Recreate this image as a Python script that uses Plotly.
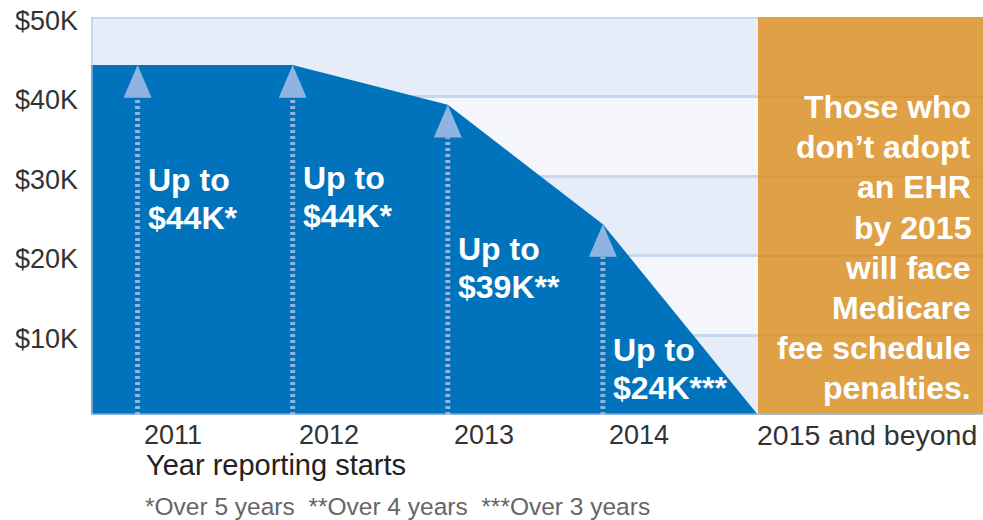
import plotly.graph_objects as go

# ---- data -------------------------------------------------------------
YEARS = [2011, 2012, 2013, 2014]
MAX_INCENTIVE_K = [44, 44, 39, 24]          # maximum incentive, $ thousands
PAYOUT_STARS = [1, 1, 2, 3]                 # footnote marker count per year
PENALTY_YEAR = 2015
PENALTY_LABEL = "2015 and beyond"
Y_TICKS = [10, 20, 30, 40, 50]
Y_TICK_TEXT = ["$10K", "$20K", "$30K", "$40K", "$50K"]
FOOTNOTES = ["*Over 5 years", "**Over 4 years", "***Over 3 years"]
PENALTY_TEXT = ["Those who", "don\u2019t adopt", "an EHR", "by 2015",
                "will face", "Medicare", "fee schedule", "penalties."]
X_AXIS_TITLE = "Year reporting starts"

# ---- styling / layout constants --------------------------------------
FONT = "Liberation Sans, Arial, sans-serif"
BLUE = "#0073bc"
ARROW = "#8fb4e2"
ORANGE = "#e0a045"
BAND_DARK = "#e6edf8"
BAND_LIGHT = "#f4f6fb"
GRID = "#c6d8ef"
X_RANGE = [2010.6996, 2016.4507]
Y_RANGE = [0, 50.05]
LABEL_Y = [27.2, 27.4, 18.5, 5.8]           # vertical centre of the "Up to" labels
LABEL_LINE_GAP = 38                         # px between the two label lines
PENALTY_TOP_Y = 38.7                        # centre of first penalty-text line
PENALTY_LINE_GAP = 40.1                     # px between penalty-text lines
HEAD_H = 4.1                                # arrowhead height (y units)
HEAD_HW = 0.09                              # arrowhead half width (x units)

fig = go.Figure()

# incentive envelope (flat start, then stepping down to zero at 2015)
fig.add_trace(go.Scatter(
    x=[X_RANGE[0]] + YEARS + [PENALTY_YEAR],
    y=[MAX_INCENTIVE_K[0]] + MAX_INCENTIVE_K + [0],
    mode="lines", fill="tozeroy", fillcolor=BLUE,
    line=dict(color=BLUE, width=0), hoverinfo="skip", showlegend=False,
))

# dotted arrows rising to each year's maximum
for yr, v in zip(YEARS, MAX_INCENTIVE_K):
    fig.add_trace(go.Scatter(
        x=[yr, yr], y=[0, v - HEAD_H], mode="lines",
        line=dict(color=ARROW, width=5, dash="3px,3px"),
        hoverinfo="skip", showlegend=False,
    ))
    fig.add_trace(go.Scatter(
        x=[yr - HEAD_HW, yr, yr + HEAD_HW, yr - HEAD_HW],
        y=[v - HEAD_H, v, v - HEAD_H, v - HEAD_H],
        mode="lines", fill="toself", fillcolor=ARROW,
        line=dict(color=ARROW, width=0), hoverinfo="skip", showlegend=False,
    ))

shapes = []
# alternating background bands
for lo in (0, 20, 40):
    shapes.append(dict(type="rect", xref="x", yref="y", x0=X_RANGE[0], x1=PENALTY_YEAR,
                       y0=lo, y1=lo + 10, fillcolor=BAND_DARK, line=dict(width=0),
                       layer="below"))
# top border
shapes.append(dict(type="line", xref="x", yref="y", x0=X_RANGE[0], x1=PENALTY_YEAR,
                   y0=50, y1=50, line=dict(color=GRID, width=3), layer="below"))
# penalty block
shapes.append(dict(type="rect", xref="x", yref="y", x0=PENALTY_YEAR, x1=X_RANGE[1],
                   y0=0, y1=50.2, fillcolor=ORANGE, line=dict(width=0), layer="above"))
for g in Y_TICKS[:-1]:
    shapes.append(dict(type="line", xref="x", yref="y", x0=PENALTY_YEAR, x1=X_RANGE[1],
                       y0=g, y1=g, line=dict(color="rgba(150,95,30,0.12)", width=2),
                       layer="above"))
# left and bottom borders
shapes.append(dict(type="line", xref="x", yref="y", x0=X_RANGE[0], x1=X_RANGE[0],
                   y0=0, y1=50, line=dict(color="rgba(170,200,235,0.6)", width=4),
                   layer="above"))
shapes.append(dict(type="line", xref="x", yref="y", x0=X_RANGE[0], x1=X_RANGE[1],
                   y0=0, y1=0, line=dict(color="rgba(160,195,230,0.9)", width=3),
                   layer="above"))

annotations = []
# in-chart value labels, one annotation per line
for yr, v, s, ly in zip(YEARS, MAX_INCENTIVE_K, PAYOUT_STARS, LABEL_Y):
    for text, shift in (("Up to", LABEL_LINE_GAP / 2), (f"${v}K{'*' * s}", -LABEL_LINE_GAP / 2)):
        annotations.append(dict(
            x=yr, y=ly, xref="x", yref="y", xanchor="left", yanchor="middle",
            xshift=8, yshift=shift, align="left", showarrow=False,
            text=f"<b>{text}</b>",
            font=dict(family=FONT, size=32, color="white"),
        ))
# year labels under the axis
for yr in YEARS:
    annotations.append(dict(
        x=yr, y=0, xref="x", yref="y", xanchor="left", yanchor="middle",
        xshift=4, yshift=-20, showarrow=False, text=str(yr),
        font=dict(family=FONT, size=27, color="#333333"),
    ))
annotations.append(dict(
    x=PENALTY_YEAR, y=0, xref="x", yref="y", xanchor="left", yanchor="middle",
    xshift=-3, yshift=-20, showarrow=False, text=PENALTY_LABEL,
    font=dict(family=FONT, size=28.5, color="#333333"),
))
annotations.append(dict(
    x=YEARS[0], y=0, xref="x", yref="y", xanchor="left", yanchor="middle",
    xshift=6, yshift=-50, showarrow=False, text=X_AXIS_TITLE,
    font=dict(family=FONT, size=29, color="#222222"),
))
annotations.append(dict(
    x=YEARS[0], y=0, xref="x", yref="y", xanchor="left", yanchor="middle",
    xshift=5, yshift=-91, showarrow=False, text="  ".join(FOOTNOTES),
    font=dict(family=FONT, size=24.5, color="#666666"),
))
# penalty message, right aligned, one annotation per line
for i, line in enumerate(PENALTY_TEXT):
    annotations.append(dict(
        x=0.989, y=PENALTY_TOP_Y, xref="paper", yref="y", xanchor="right",
        yanchor="middle", yshift=-PENALTY_LINE_GAP * i, showarrow=False,
        text=f"<b>{line}</b>",
        font=dict(family=FONT, size=32, color="white"),
    ))

fig.update_layout(
    width=983, height=520, autosize=False,
    margin=dict(l=91, r=0, t=17, b=105, pad=0),
    paper_bgcolor="white", plot_bgcolor=BAND_LIGHT,
    showlegend=False,
    shapes=shapes, annotations=annotations,
    xaxis=dict(range=X_RANGE, showgrid=False, zeroline=False, showticklabels=False,
               ticks="", showline=False, fixedrange=True),
    yaxis=dict(range=Y_RANGE, tickvals=Y_TICKS, ticktext=Y_TICK_TEXT,
               showgrid=True, gridcolor=GRID, gridwidth=3, zeroline=False,
               ticks="", ticklabelstandoff=12, ticklabelshift=3,
               tickfont=dict(family=FONT, size=27, color="#333333"),
               showline=False, fixedrange=True),
)

fig.write_html("out.html")
